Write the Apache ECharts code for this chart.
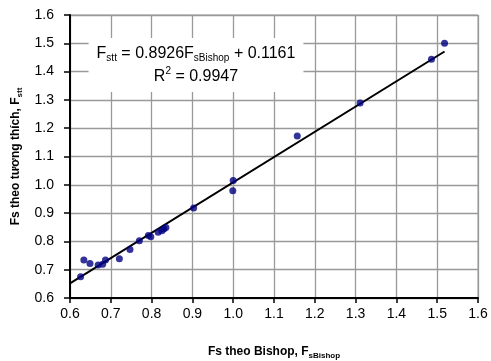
<!DOCTYPE html>
<html><head><meta charset="utf-8">
<script src="https://cdn.jsdelivr.net/npm/echarts@6/dist/echarts.min.js"></script>
<style>html,body{margin:0;padding:0;background:#fff}#c{width:491px;height:361px}</style>
</head><body><div id="c"></div>
<script>
const xBishop = [0.626,0.634,0.649,0.669,0.680,0.687,0.721,0.747,0.770,0.792,0.798,0.816,0.825,0.830,0.835,0.903,1.000,0.999,1.157,1.311,1.486,1.518];
const yStt    = [0.675,0.734,0.722,0.717,0.719,0.734,0.739,0.771,0.802,0.821,0.816,0.832,0.838,0.844,0.849,0.918,1.015,0.979,1.172,1.289,1.444,1.500];
const slope = 0.8926;
const intercept = 0.1161;
const r2 = 0.9947;
const trendX = [0.6, Math.max(...xBishop)];

const pts = xBishop.map((x,i)=>[x,yStt[i]]);
const trend = trendX.map(x=>[x, slope*x+intercept]);
const FONT = 'Liberation Sans, Arial, sans-serif';
const rt = (fs, extra) => Object.assign({fontSize:fs,fontFamily:FONT,color:'#000',align:'center',lineHeight:23}, extra||{});
const chart = echarts.init(document.getElementById('c'));
chart.setOption({
  animation:false,
  grid:{left:70,right:13,top:15,bottom:63,show:true,borderColor:'#999',borderWidth:1,outerBoundsMode:'none',containLabel:false},
  xAxis:{type:'value',min:0.6,max:1.6,interval:0.1,
    axisLine:{onZero:false,lineStyle:{color:'#000',width:2}},
    axisTick:{show:true,length:5,lineStyle:{color:'#000',width:1.5}},
    axisLabel:{color:'#000',fontSize:14,fontFamily:FONT,margin:9,formatter:v=>v.toFixed(1)},
    splitLine:{lineStyle:{color:'#999',width:1.3}},
    name:'{b|Fs theo Bishop, F}{s|sBishop}',nameLocation:'middle',nameGap:46,
    nameTextStyle:{rich:{b:{fontSize:12,fontWeight:'bold',fontFamily:FONT,color:'#000'},s:{fontSize:8,fontWeight:'bold',fontFamily:FONT,color:'#000',padding:[8,0,0,0]}}}
  },
  yAxis:{type:'value',min:0.6,max:1.6,interval:0.1,
    axisLine:{onZero:false,lineStyle:{color:'#000',width:2}},
    axisTick:{show:true,length:6,lineStyle:{color:'#000',width:1.5}},
    axisLabel:{color:'#000',fontSize:14,fontFamily:FONT,margin:16,formatter:v=>v.toFixed(1)},
    splitLine:{lineStyle:{color:'#999',width:1.3}},
    name:'{b|Fs theo tương thích, F}{s|stt}',nameLocation:'middle',nameGap:44,nameRotate:90,
    nameTextStyle:{rich:{b:{fontSize:12,fontWeight:'bold',fontFamily:FONT,color:'#000'},s:{fontSize:8,fontWeight:'bold',fontFamily:FONT,color:'#000',padding:[8,0,0,0]}}}
  },
  graphic:[{type:'text',x:196,y:38,z:10,
    style:{text:'{t|F}{s|stt}{t| = '+slope.toFixed(4)+'F}{s|sBishop}{t| + '+intercept.toFixed(4)+'}\n{t|R}{p|2}{t| = '+r2.toFixed(4)+'}',
      align:'center',verticalAlign:'top',backgroundColor:'#fff',padding:[4,8,4,8],
      rich:{t:rt(16),s:rt(10,{padding:[10,0,0,0]}),p:rt(10,{padding:[0,0,10,0]})}}}],
  series:[
    {type:'line',data:trend,symbol:'none',lineStyle:{color:'#000',width:2},z:3},
    {type:'scatter',data:pts,symbol:'circle',symbolSize:7,itemStyle:{color:'#00007f'},z:4}
  ]
});
</script></body></html>
